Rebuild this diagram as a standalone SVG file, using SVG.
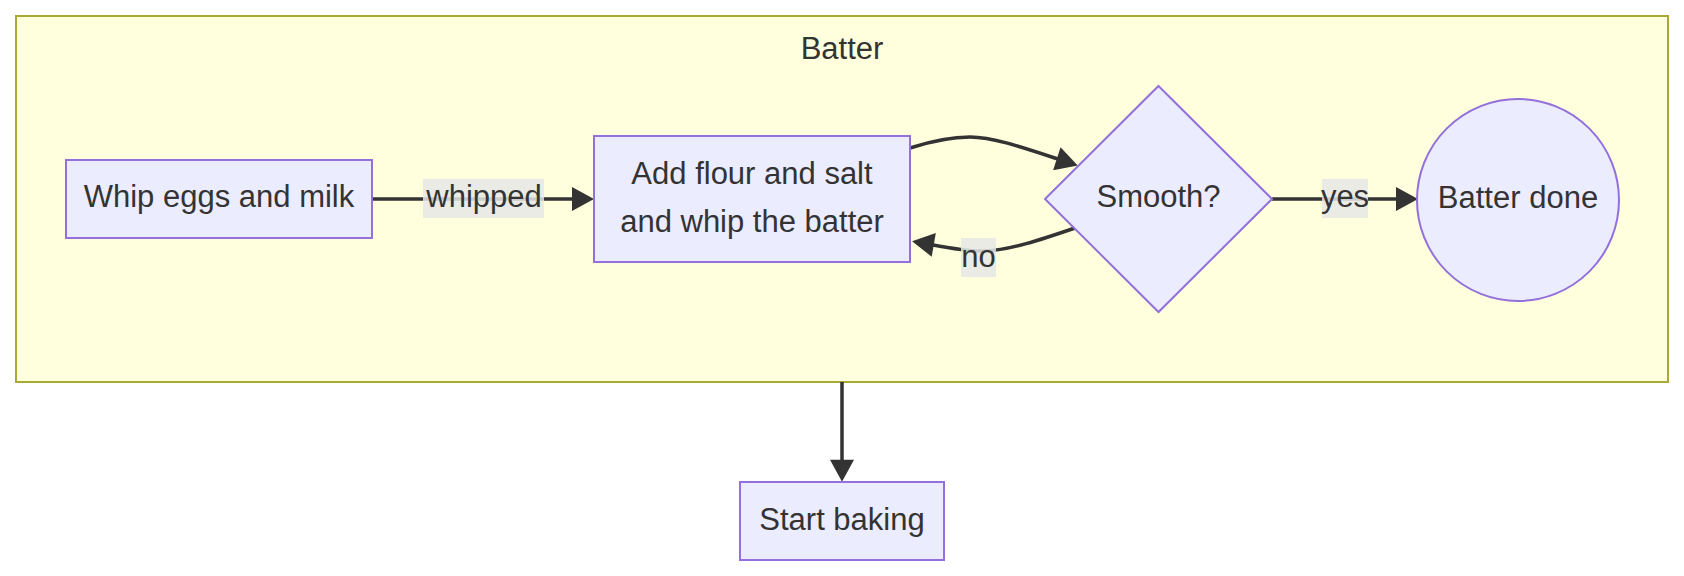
<svg xmlns="http://www.w3.org/2000/svg" width="1684" height="576" viewBox="0 0 1684 576">
<defs>
<style>
.cluster{fill:#ffffde;stroke:#aaaa33;stroke-width:2}
.node{fill:#ececff;stroke:#9370db;stroke-width:2}
.t{font-family:"Liberation Sans",Arial,sans-serif;font-size:31px;fill:#333;text-anchor:middle}
.edge{fill:none;stroke:#333;stroke-width:3.5}
.lbl{fill:#e8e8e8;fill-opacity:0.85}
</style>
<marker id="arrow" markerUnits="userSpaceOnUse" markerWidth="24" markerHeight="24" viewBox="0 0 22 24" refX="17" refY="12" orient="auto">
<path d="M0,0 L22,12 L0,24 z" fill="#333"/>
</marker>
</defs>
<g id="cluster-batter">
<rect class="cluster" x="16" y="16" width="1652" height="366"/>
<text class="t" x="842" y="59">Batter</text>
</g>
<g id="connectors">
<path class="edge" d="M910,148 C935,140 952,137 970,137 C995,137 1030,150 1073,164" marker-end="url(#arrow)"/>
<path class="edge" d="M372,199 L589,199" marker-end="url(#arrow)"/>
<path class="edge" d="M1075,228 C1040,240 1010,250 985,251 C965,252 940,246 917,242" marker-end="url(#arrow)"/>
<path class="edge" d="M1272,199 L1413,199" marker-end="url(#arrow)"/>
<path class="edge" d="M842,382 L842,476.7" marker-end="url(#arrow)"/>
</g>
<g id="label-whipped">
<rect class="lbl" x="423" y="179" width="121" height="39"/>
<text class="t" x="484" y="207">whipped</text>
</g>
<g id="label-no">
<rect class="lbl" x="961" y="238" width="35" height="39"/>
<text class="t" x="978.5" y="267">no</text>
</g>
<g id="label-yes">
<rect class="lbl" x="1322" y="179" width="46" height="39"/>
<text class="t" x="1345" y="207">yes</text>
</g>
<g id="node-whip">
<rect class="node" x="66" y="160" width="306" height="78"/>
<text class="t" x="219" y="207">Whip eggs and milk</text>
</g>
<g id="node-add">
<rect class="node" x="594" y="136" width="316" height="126"/>
<text class="t" x="752" y="184">Add flour and salt</text>
<text class="t" x="752" y="232">and whip the batter</text>
</g>
<g id="node-smooth">
<polygon class="node" points="1158.5,86 1272,199 1158.5,312 1045,199"/>
<text class="t" x="1158.5" y="207">Smooth?</text>
</g>
<g id="node-done">
<circle class="node" cx="1518" cy="200" r="101"/>
<text class="t" x="1518" y="208">Batter done</text>
</g>
<g id="node-bake">
<rect class="node" x="740" y="482" width="204" height="78"/>
<text class="t" x="842" y="530">Start baking</text>
</g>
</svg>
